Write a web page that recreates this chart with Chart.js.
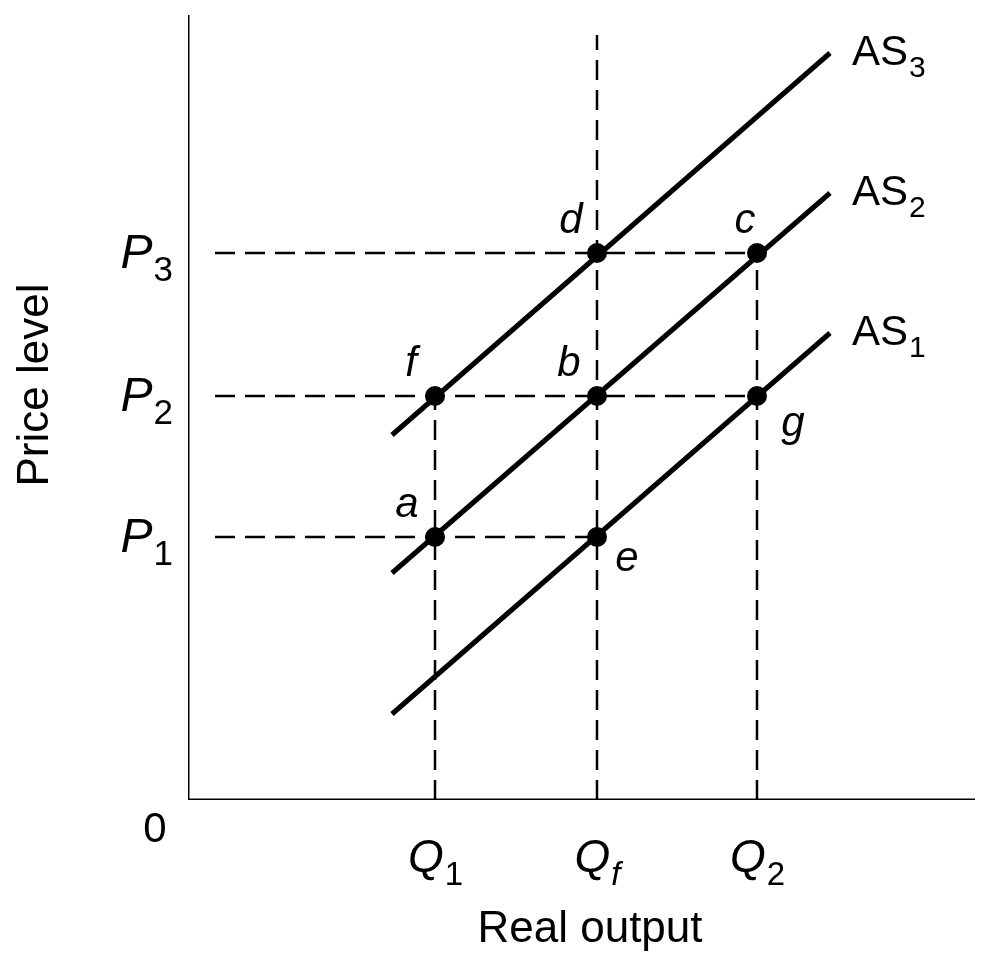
<!DOCTYPE html>
<html><head><meta charset="utf-8">
<script src="https://cdn.jsdelivr.net/npm/chart.js@4"></script>
<style>html,body{margin:0;padding:0;background:#fff}</style>
</head><body>
<canvas id="c" width="985" height="970"></canvas>
<script>
// data units: x = output, y = price level (axis origin 0,0)
const qLevels = [247, 409, 569];          // Q1, Qf, Q2
const qNames = ['1', 'f', '2'];
const pLevels = [263, 404, 547];          // P1, P2, P3
const pNames = ['1', '2', '3'];
const asStart = [[204, 86], [204, 227], [204, 365]];  // AS1..AS3 lower ends
const asEnd = [[642, 467], [642, 607], [642, 747]];
const asNames = ['1', '2', '3'];
const eqPoints = [
  {x: 247, y: 263, t: 'a'}, {x: 409, y: 404, t: 'b'}, {x: 569, y: 547, t: 'c'},
  {x: 409, y: 547, t: 'd'}, {x: 409, y: 263, t: 'e'}, {x: 247, y: 404, t: 'f'},
  {x: 569, y: 404, t: 'g'}
];
const xMax = 787, yMax = 785;

const labelOffsets = {a: [-28, -32], b: [-28, -32], c: [-12, -32], d: [-26, -32],
  e: [30, 22], f: [-24, -32], g: [36, 28]};

const datasets = [];
const solid = {borderColor: '#000', borderWidth: 5, pointRadius: 0, fill: false};
const dash = {borderColor: '#000', borderWidth: 2.5, borderDash: [20, 10], pointRadius: 0, fill: false};
// axes
datasets.push({...solid, borderWidth: 3, data: [{x: 0, y: yMax}, {x: 0, y: 0}, {x: xMax, y: 0}]});
// dashed guides
datasets.push({...dash, data: [{x: 27, y: pLevels[2]}, {x: qLevels[2], y: pLevels[2]}]});
datasets.push({...dash, data: [{x: 27, y: pLevels[1]}, {x: qLevels[2], y: pLevels[1]}]});
datasets.push({...dash, data: [{x: 27, y: pLevels[0]}, {x: qLevels[1], y: pLevels[0]}]});
datasets.push({...dash, data: [{x: qLevels[0], y: 0}, {x: qLevels[0], y: pLevels[1]}]});
datasets.push({...dash, data: [{x: qLevels[1], y: 0}, {x: qLevels[1], y: 765}]});
datasets.push({...dash, data: [{x: qLevels[2], y: 0}, {x: qLevels[2], y: pLevels[2]}]});
// AS curves
asStart.forEach((s, i) => {
  datasets.push({...solid, data: [{x: s[0], y: s[1]}, {x: asEnd[i][0], y: asEnd[i][1]}]});
});
// points
datasets.push({type: 'scatter', data: eqPoints.map(p => ({x: p.x, y: p.y})),
  pointRadius: 10, pointBackgroundColor: '#000', pointBorderWidth: 0, showLine: false});

function sub(ctx, main, s, x, y, size, italicMain, align) {
  ctx.font = (italicMain ? 'italic ' : '') + size + 'px "Liberation Sans", Arial, sans-serif';
  const w1 = ctx.measureText(main).width;
  ctx.font = Math.round(size * 0.72) + 'px "Liberation Sans", Arial, sans-serif';
  const w2 = ctx.measureText(s).width;
  let x0 = align === 'center' ? x - (w1 + w2) / 2 : (align === 'right' ? x - w1 - w2 : x);
  ctx.textAlign = 'left';
  ctx.textBaseline = 'alphabetic';
  ctx.font = (italicMain ? 'italic ' : '') + size + 'px "Liberation Sans", Arial, sans-serif';
  ctx.fillText(main, x0, y);
  ctx.font = (s === 'f' ? 'italic ' : '') + Math.round(size * 0.72) + 'px "Liberation Sans", Arial, sans-serif';
  ctx.fillText(s, x0 + w1 + 1, y + size * 0.28);
}

const textPlugin = {
  id: 'texts',
  afterDraw(chart) {
    const ctx = chart.ctx, xs = chart.scales.x, ys = chart.scales.y;
    ctx.save();
    ctx.fillStyle = '#000';
    const F = '"Liberation Sans", Arial, sans-serif';
    qLevels.forEach((q, i) => sub(ctx, 'Q', qNames[i], xs.getPixelForValue(q), 872, 46, true, 'center'));
    pLevels.forEach((p, i) => sub(ctx, 'P', pNames[i], 172, ys.getPixelForValue(p) + 15, 48, true, 'right'));
    asEnd.forEach((e, i) => sub(ctx, 'AS', asNames[i], xs.getPixelForValue(e[0]) + 22, ys.getPixelForValue(e[1]) + 12, 42, false, 'left'));
    ctx.font = '42px ' + F;
    ctx.textAlign = 'center';
    ctx.textBaseline = 'middle';
    ctx.fillText('0', 155, 830);
    ctx.font = '44px ' + F;
    ctx.fillText('Real output', 590, 930);
    ctx.save();
    ctx.translate(36, 385);
    ctx.rotate(-Math.PI / 2);
    ctx.fillText('Price level', 0, 0);
    ctx.restore();
    ctx.font = 'italic 42px ' + F;
    eqPoints.forEach(p => {
      const o = labelOffsets[p.t];
      ctx.fillText(p.t, xs.getPixelForValue(p.x) + o[0], ys.getPixelForValue(p.y) + o[1]);
    });
    ctx.restore();
  }
};

new Chart(document.getElementById('c'), {
  type: 'line',
  data: {datasets},
  options: {
    responsive: false, animation: false,
    layout: {padding: {left: 188, right: 10, top: 15, bottom: 170}},
    plugins: {legend: {display: false}, tooltip: {enabled: false}},
    scales: {
      x: {type: 'linear', min: 0, max: xMax, display: false},
      y: {type: 'linear', min: 0, max: yMax, display: false}
    }
  },
  plugins: [textPlugin]
});
</script>
</body></html>
